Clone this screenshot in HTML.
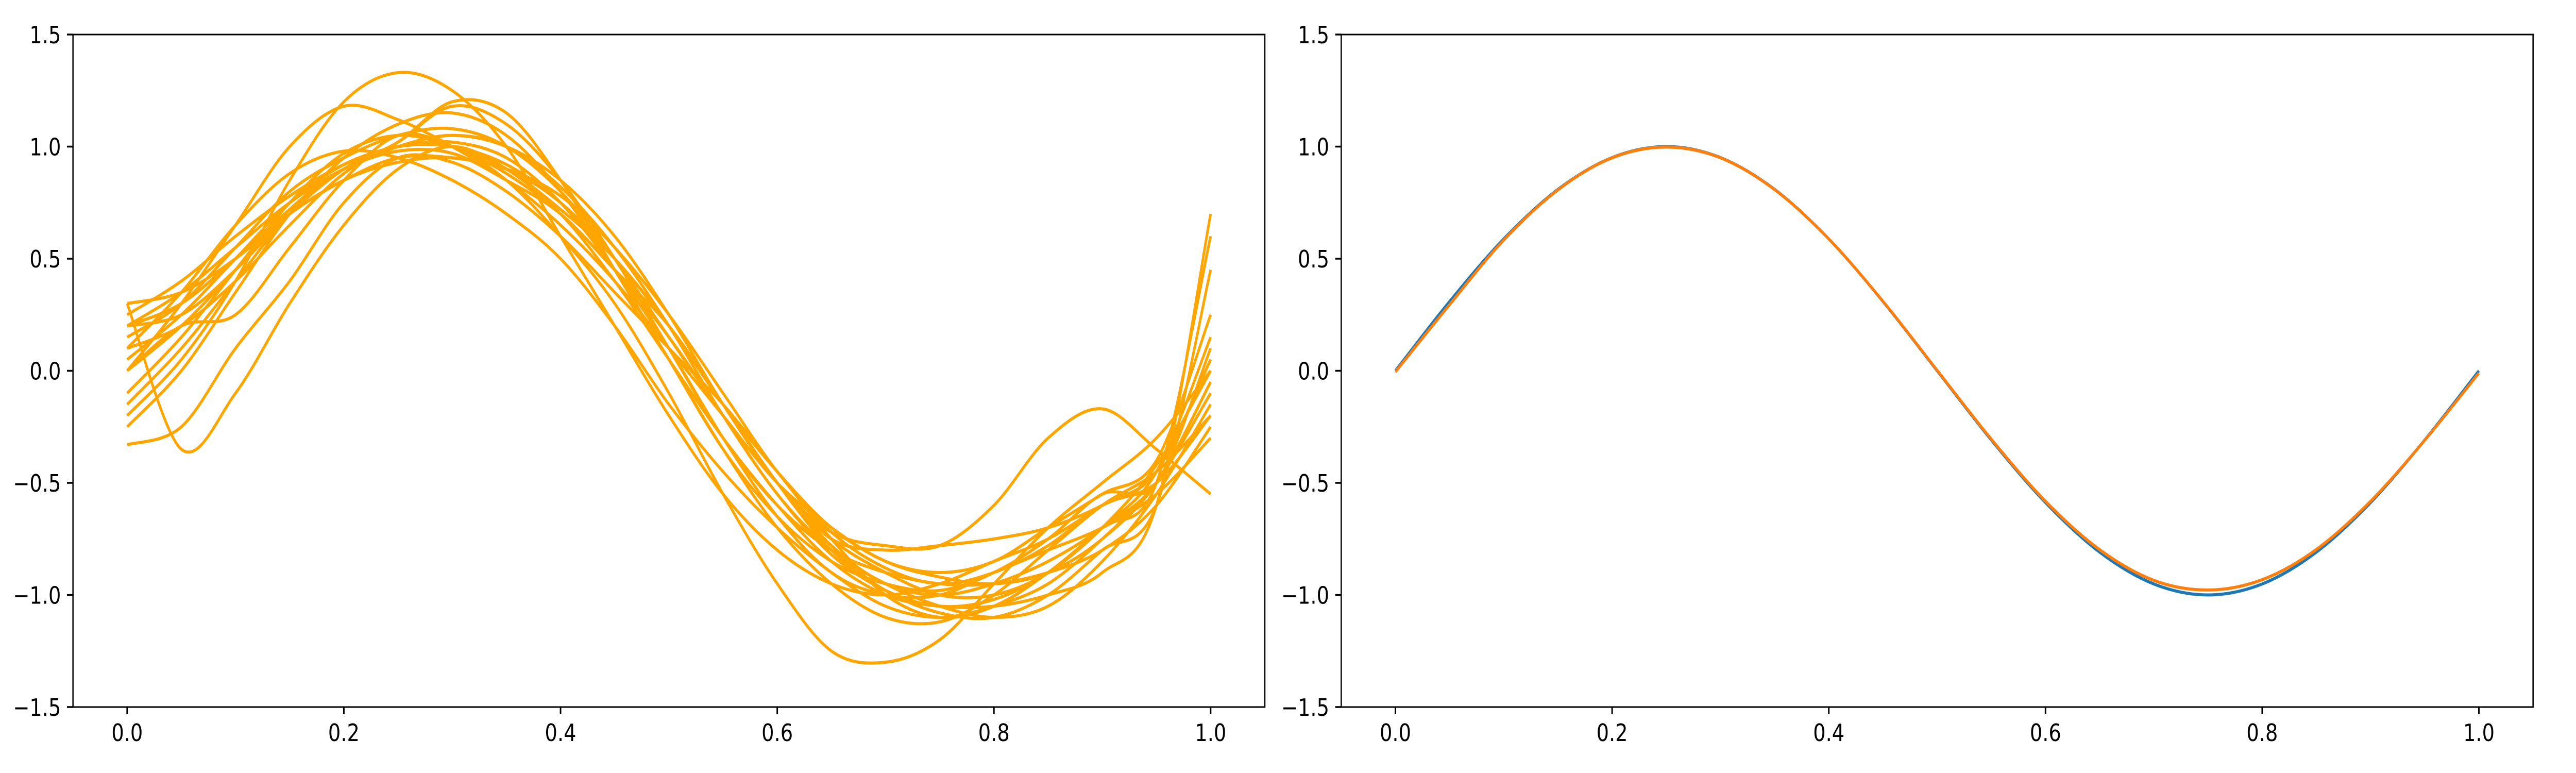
<!DOCTYPE html>
<html><head><meta charset="utf-8"><style>
html,body{margin:0;padding:0;background:#fff;width:100vw;height:100vh;overflow:hidden;}
svg{display:block;width:100vw;height:100vh;}
text{font-family:"DejaVu Sans","Liberation Sans",sans-serif;font-size:46px;fill:#000;}
</style></head><body>
<svg id="chart" viewBox="0 0 6000 1500" preserveAspectRatio="none" xmlns="http://www.w3.org/2000/svg">
<g id="left"></g>
<g id="right"></g>
</svg>
<script>
const xSamples = [0,0.05,0.1,0.15,0.2,0.25,0.3,0.35,0.4,0.45,0.5,0.55,0.6,0.65,0.7,0.75,0.8,0.85,0.9,0.95,1.0];
const xTickValues = [0,0.2,0.4,0.6,0.8,1.0];
const xTickLabels = ["0.0","0.2","0.4","0.6","0.8","1.0"];
const yTickValues = [-1.5,-1.0,-0.5,0,0.5,1.0,1.5];
const yTickLabels = ["\u22121.5","\u22121.0","\u22120.5","0.0","0.5","1.0","1.5"];
const sampleCurves = [
 [-0.2,0.05,0.4,0.85,1.2,1.33,1.25,1.0,0.6,0.2,-0.2,-0.55,-0.8,-0.95,-1.0,-0.95,-0.85,-0.75,-0.6,-0.45,0.05],
 [0.0,0.3,0.65,1.0,1.18,1.12,1.0,0.85,0.65,0.4,0.1,-0.2,-0.5,-0.7,-0.85,-0.9,-0.85,-0.7,-0.55,-0.4,0.25],
 [0.3,-0.35,-0.1,0.3,0.65,0.9,1.0,0.9,0.7,0.4,0.05,-0.3,-0.6,-0.85,-1.0,-1.05,-1.05,-1.0,-0.9,-0.6,0.7],
 [-0.33,-0.25,0.1,0.4,0.75,0.95,0.93,0.8,0.6,0.35,0.1,-0.15,-0.45,-0.75,-1.0,-1.1,-1.05,-0.9,-0.7,-0.5,0.6],
 [0.0,0.2,0.25,0.55,0.85,1.05,1.0,0.85,0.6,0.3,-0.1,-0.55,-0.95,-1.25,-1.3,-1.2,-0.95,-0.7,-0.5,-0.3,0.0],
 [0.2,0.35,0.55,0.75,0.9,0.98,0.97,0.85,0.7,0.45,0.2,-0.15,-0.5,-0.72,-0.78,-0.78,-0.6,-0.3,-0.17,-0.35,-0.55],
 [0.1,0.35,0.65,0.88,0.98,0.95,0.85,0.7,0.5,0.2,-0.15,-0.45,-0.7,-0.9,-1.05,-1.1,-1.05,-0.95,-0.75,-0.5,-0.1],
 [0.15,0.3,0.55,0.8,0.95,1.05,1.08,1.0,0.8,0.5,0.15,-0.2,-0.5,-0.75,-0.9,-1.0,-1.0,-0.9,-0.7,-0.45,0.15],
 [0.25,0.4,0.6,0.78,0.92,1.0,1.0,0.92,0.75,0.5,0.2,-0.15,-0.45,-0.7,-0.85,-0.92,-0.95,-0.9,-0.75,-0.5,-0.05],
 [-0.25,0.0,0.35,0.7,0.95,1.1,1.15,1.05,0.8,0.45,0.05,-0.35,-0.7,-0.95,-1.1,-1.12,-1.0,-0.8,-0.6,-0.45,-0.2],
 [0.05,0.25,0.5,0.75,0.92,1.0,1.02,0.95,0.75,0.45,0.1,-0.3,-0.65,-0.9,-1.0,-1.0,-0.9,-0.8,-0.7,-0.55,-0.3],
 [0.2,0.25,0.45,0.7,0.9,1.02,1.2,1.15,0.85,0.45,0.05,-0.35,-0.65,-0.85,-0.95,-0.98,-0.9,-0.75,-0.55,-0.5,0.1],
 [-0.1,0.15,0.45,0.75,0.97,1.05,1.0,0.88,0.7,0.45,0.15,-0.2,-0.55,-0.8,-0.95,-1.05,-1.1,-1.05,-0.85,-0.55,-0.15],
 [0.2,0.3,0.5,0.72,0.9,1.0,1.05,1.0,0.85,0.6,0.25,-0.15,-0.5,-0.75,-0.8,-0.78,-0.75,-0.7,-0.6,-0.45,0.05],
 [0.1,0.2,0.4,0.65,0.88,1.02,1.18,1.1,0.85,0.5,0.1,-0.3,-0.6,-0.8,-0.9,-0.95,-0.95,-0.9,-0.8,-0.6,-0.25],
 [-0.15,0.1,0.4,0.7,0.9,1.0,1.0,0.9,0.72,0.5,0.2,-0.15,-0.5,-0.8,-0.98,-1.08,-1.1,-1.0,-0.8,-0.6,0.45],
 [0.3,0.35,0.5,0.7,0.85,0.95,0.95,0.9,0.78,0.55,0.25,-0.1,-0.45,-0.72,-0.88,-0.95,-0.9,-0.78,-0.6,-0.5,-0.2],
 [0.0,0.2,0.45,0.72,0.9,1.0,1.05,1.0,0.82,0.55,0.2,-0.2,-0.55,-0.82,-0.98,-1.05,-1.02,-0.9,-0.7,-0.42,0.0],
 [0.2,0.3,0.5,0.7,0.85,0.93,0.95,0.9,0.75,0.5,0.2,-0.15,-0.5,-0.78,-0.95,-1.0,-0.95,-0.85,-0.7,-0.5,-0.05]
];
const trueCurve = [0,0.309,0.588,0.809,0.951,1.0,0.951,0.809,0.588,0.309,0,-0.309,-0.588,-0.809,-0.951,-1.0,-0.951,-0.809,-0.588,-0.309,0];
const fitCurve = [-0.005,0.295,0.583,0.807,0.95,0.998,0.95,0.808,0.588,0.31,0.002,-0.305,-0.582,-0.798,-0.935,-0.978,-0.932,-0.797,-0.582,-0.31,-0.01];

const NS="http://www.w3.org/2000/svg";
const T=67, B=1372, xMin=-0.05, xMax=1.05, yMin=-1.5, yMax=1.5;
function mk(tag,attrs,parent){const e=document.createElementNS(NS,tag);for(const k in attrs)e.setAttribute(k,attrs[k]);parent.appendChild(e);return e;}
function makeAxes(g,L,R,prefix){
  const sx=v=>L+(v-xMin)/(xMax-xMin)*(R-L);
  const sy=v=>B-(v-yMin)/(yMax-yMin)*(B-T);
  return {sx,sy,L,R,g,prefix};
}
function pathFrom(ax,ys){
  const pts=xSamples.map((x,i)=>[ax.sx(x),ax.sy(ys[i])]);
  let d="M"+pts[0][0].toFixed(1)+","+pts[0][1].toFixed(1);
  for(let i=0;i<pts.length-1;i++){
    const p0=pts[Math.max(0,i-1)],p1=pts[i],p2=pts[i+1],p3=pts[Math.min(pts.length-1,i+2)];
    const c1=[p1[0]+(p2[0]-p0[0])/6,p1[1]+(p2[1]-p0[1])/6];
    const c2=[p2[0]-(p3[0]-p1[0])/6,p2[1]-(p3[1]-p1[1])/6];
    d+="C"+c1[0].toFixed(1)+","+c1[1].toFixed(1)+" "+c2[0].toFixed(1)+","+c2[1].toFixed(1)+" "+p2[0].toFixed(1)+","+p2[1].toFixed(1);
  }
  return d;
}
function drawFrame(ax){
  const g=ax.g;
  const ticks=mk('g',{},g);
  
  
  xTickValues.forEach((v,i)=>{
    const x=ax.sx(v);
    const t=mk('line',{x1:x,y1:B,x2:x,y2:B+14,stroke:'#000','stroke-width':3.5},ticks);
    
    
    const lb=mk('text',{x:x,y:1438,'text-anchor':'middle'},ticks);
    lb.textContent=xTickLabels[i];
    
    
  });
  yTickValues.forEach((v,i)=>{
    const y=ax.sy(v);
    const t=mk('line',{x1:ax.L-14,y1:y,x2:ax.L,y2:y,stroke:'#000','stroke-width':3.5},ticks);
    
    
    const lb=mk('text',{x:ax.L-28,y:y+17,'text-anchor':'end'},ticks);
    lb.textContent=yTickLabels[i];
    
    
  });
  const fr=mk('rect',{x:ax.L,y:T,width:ax.R-ax.L,height:B-T,fill:'none',stroke:'#000','stroke-width':3},g);
  
  
}
function drawLine(ax,ys,color,name){
  const p=mk('path',{d:pathFrom(ax,ys),fill:'none',stroke:color,'stroke-width':6,'stroke-linejoin':'round'},ax.g);
  
  
}
const left=makeAxes(document.getElementById('left'),170,2946,'left');
const right=makeAxes(document.getElementById('right'),3124,5900,'right');
sampleCurves.forEach((c,i)=>drawLine(left,c,'#ffa500','sample-curve-'+(i+1)));
drawLine(right,trueCurve,'#1f77b4','true-sine-line');
drawLine(right,fitCurve,'#ff7f0e','fitted-line');
drawFrame(left);
drawFrame(right);
</script>
</body></html>
